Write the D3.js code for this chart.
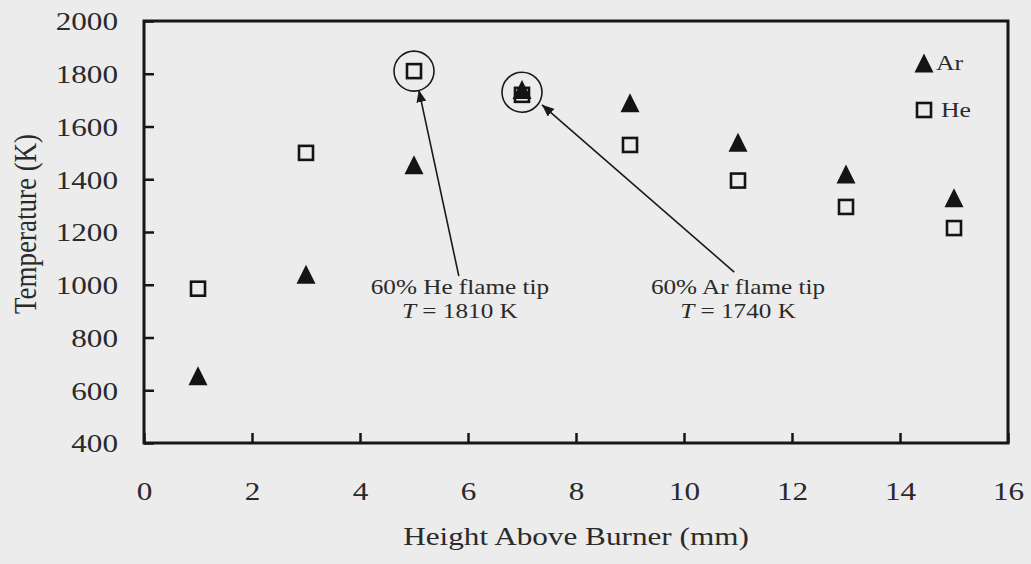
<!DOCTYPE html>
<html>
<head>
<meta charset="utf-8">
<script src="https://cdn.jsdelivr.net/npm/d3@7"></script>
<style>
  html, body { margin: 0; padding: 0; background: #ececec; }
  svg { display: block; }
  text { font-family: "Liberation Serif", "Times New Roman", serif; fill: #2a2a2a; }
</style>
</head>
<body>
<svg id="chart" width="1031" height="564"></svg>
<script>
// Height above burner (mm)
const heights = [1, 3, 5, 7, 9, 11, 13, 15];
// Measured temperature (K) for each diluent
const arTemps = [655, 1040, 1455, 1740, 1690, 1540, 1420, 1330];
const heTemps = [985, 1500, 1810, 1720, 1530, 1395, 1295, 1215];

const xTicks = [0, 2, 4, 6, 8, 10, 12, 14, 16];
const yTicks = [400, 600, 800, 1000, 1200, 1400, 1600, 1800, 2000];

const seriesNames = ["Ar", "He"];

// Flame-tip callouts: circled point, label anchor and arrow in data units
const callouts = [
  { cx: 5, cy: 1810, lines: ["60% He flame tip", "1810 K"], lx: 5.85, ly: 1000,
    from: [5.83, 1033], to: [5.09, 1738] },
  { cx: 7, cy: 1730, lines: ["60% Ar flame tip", "1740 K"], lx: 11.0, ly: 1000,
    from: [10.93, 1048], to: [7.37, 1682] }
];

const W = 1031, H = 564;
const m = { left: 144, top: 21, right: 1008, bottom: 443 };
const SX = 1.2; // horizontal text stretch

const svg = d3.select("#chart");
svg.append("rect").attr("width", W).attr("height", H).attr("fill", "#ececec");

const x = d3.scaleLinear().domain([0, 16]).range([m.left, m.right]);
const y = d3.scaleLinear().domain([400, 2000]).range([m.bottom, m.top]);

// Axes with inward ticks
const yAxis = svg.append("g")
  .attr("transform", `translate(${m.left},0)`)
  .call(d3.axisLeft(y).tickValues(yTicks).tickSize(-10).tickFormat(d3.format("d")));
yAxis.select(".domain").remove();
yAxis.selectAll(".tick line").attr("stroke", "#161616").attr("stroke-width", 2.5);
yAxis.selectAll(".tick text")
  .attr("x", -26 / SX).attr("dy", "0.34em")
  .attr("transform", `scale(${SX},1)`)
  .attr("font-size", 26).attr("text-anchor", "end")
  .style("font-family", '"Liberation Serif", "Times New Roman", serif').attr("fill", "#2a2a2a");

const xAxis = svg.append("g")
  .attr("transform", `translate(0,${m.bottom})`)
  .call(d3.axisBottom(x).tickValues(xTicks).tickSize(-10).tickFormat(d3.format("d")));
xAxis.select(".domain").remove();
xAxis.selectAll(".tick line").attr("stroke", "#161616").attr("stroke-width", 2.5);
xAxis.selectAll(".tick text")
  .attr("y", 57).attr("dy", 0)
  .attr("transform", `scale(${SX},1)`)
  .attr("font-size", 26).attr("text-anchor", "middle")
  .style("font-family", '"Liberation Serif", "Times New Roman", serif').attr("fill", "#2a2a2a");

// Plot frame
svg.append("rect")
  .attr("x", m.left).attr("y", m.top)
  .attr("width", m.right - m.left).attr("height", m.bottom - m.top)
  .attr("fill", "none").attr("stroke", "#161616").attr("stroke-width", 3);

// Axis titles
svg.append("text")
  .attr("transform", `translate(${(m.left + m.right) / 2},545) scale(${SX},1)`)
  .attr("text-anchor", "middle").attr("font-size", 26)
  .text("Height Above Burner (mm)");

svg.append("text")
  .attr("transform", `translate(36,${(m.top + m.bottom) / 2 - 8}) scale(${SX},1) rotate(-90)`)
  .attr("text-anchor", "middle").attr("font-size", 27)
  .text("Temperature (K)");

// Marker shapes
const triPath = "M0,-9.5L9.5,9.5L-9.5,9.5Z";
function drawTri(g, px, py) {
  g.append("path").attr("d", triPath)
    .attr("transform", `translate(${px},${py})`)
    .attr("fill", "#141414");
}
function drawSq(g, px, py) {
  g.append("rect").attr("x", px - 7).attr("y", py - 7)
    .attr("width", 14).attr("height", 14)
    .attr("fill", "none").attr("stroke", "#141414").attr("stroke-width", 2.6);
}

const marks = svg.append("g");
heights.forEach((h, i) => drawSq(marks, x(h), y(heTemps[i])));
heights.forEach((h, i) => drawTri(marks, x(h), y(arTemps[i])));

// Callouts: circles, arrows, labels
svg.append("defs").append("marker")
  .attr("id", "head").attr("viewBox", "0 0 12 10")
  .attr("refX", 12).attr("refY", 5)
  .attr("markerWidth", 12).attr("markerHeight", 10)
  .attr("markerUnits", "userSpaceOnUse")
  .attr("orient", "auto")
  .append("path").attr("d", "M0,0L12,5L0,10Z").attr("fill", "#1a1a1a");

const co = svg.append("g");
callouts.forEach(c => {
  co.append("circle")
    .attr("cx", x(c.cx)).attr("cy", y(c.cy)).attr("r", 20)
    .attr("fill", "none").attr("stroke", "#1a1a1a").attr("stroke-width", 1.6);
  co.append("line")
    .attr("x1", x(c.from[0])).attr("y1", y(c.from[1]))
    .attr("x2", x(c.to[0])).attr("y2", y(c.to[1]))
    .attr("stroke", "#1a1a1a").attr("stroke-width", 1.6)
    .attr("marker-end", "url(#head)");
  const px = x(c.lx), py = y(c.ly);
  co.append("text")
    .attr("transform", `translate(${px},${py + 9}) scale(1.2,1)`)
    .attr("text-anchor", "middle").attr("font-size", 21)
    .text(c.lines[0]);
  const t2 = co.append("text")
    .attr("transform", `translate(${px},${py + 33}) scale(1.2,1)`)
    .attr("text-anchor", "middle").attr("font-size", 21);
  t2.append("tspan").attr("font-style", "italic").text("T");
  t2.append("tspan").text(" = " + c.lines[1]);
});

// Legend
const lg = svg.append("g");
seriesNames.forEach((name, i) => {
  const ly = 63 + i * 47;
  if (i === 0) drawTri(lg, 924, ly); else drawSq(lg, 924, ly);
  lg.append("text")
    .attr("transform", `translate(${i === 0 ? 936 : 941},${ly + 7}) scale(1.17,1)`)
    .attr("font-size", 22)
    .text(name);
});
</script>
</body>
</html>
